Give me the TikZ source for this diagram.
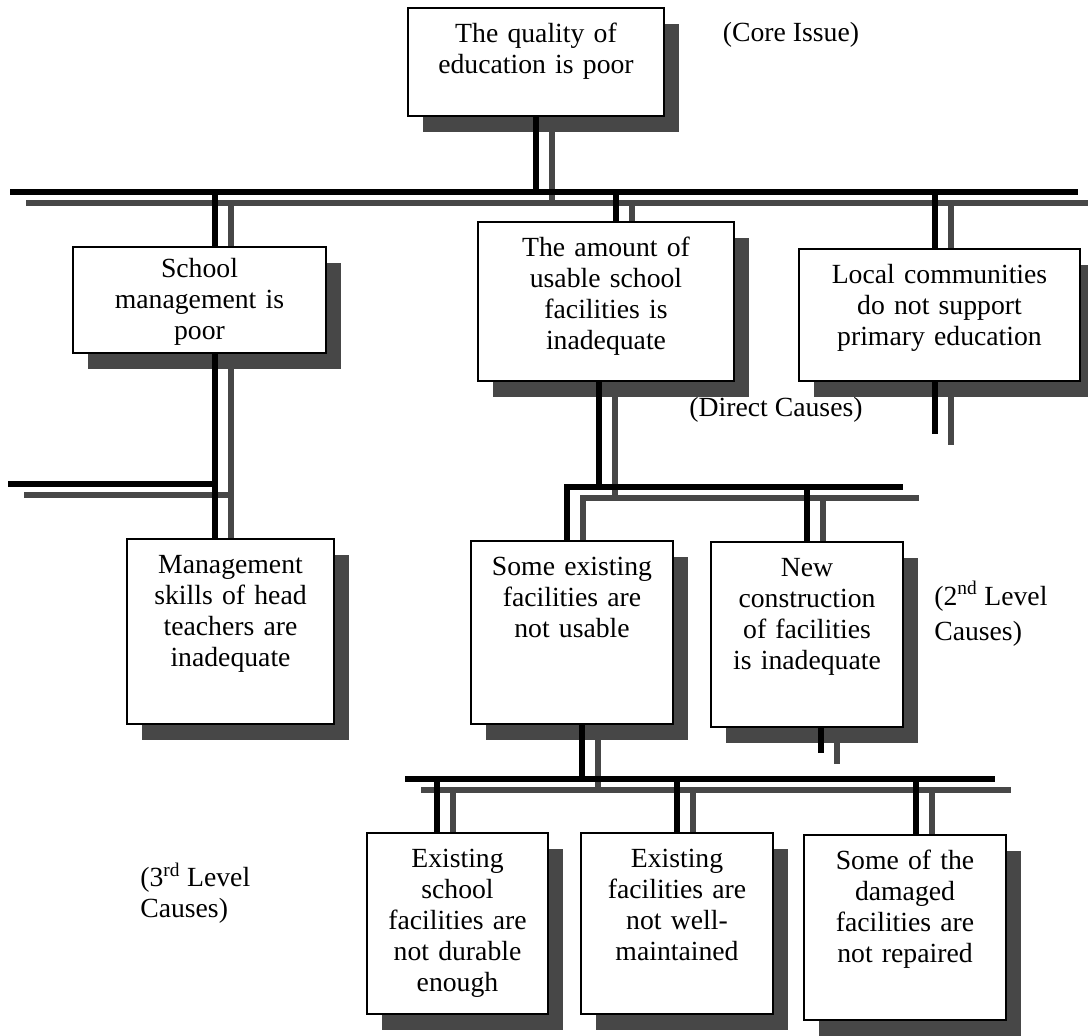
\documentclass[tikz,border=0pt]{standalone}
\usepackage{fontspec}
\setmainfont{Liberation Serif}
\usepackage{tikz}
\usetikzlibrary{shadows, calc}

\pgfdeclarelayer{background}
\pgfsetlayers{background,main}

\newcommand{\drawrails}[1]{%
	\draw[#1] (b1w) -- (b1e);
	\draw[#1] (core.south) -- (core.south |- b1w);
	\draw[#1] (m1) -- (m1 |- mgmt.north);
	\draw[#1] (m1 |- mgmt.south) -- (m1 |- skills.north);
	\draw[#1] (b2w) -- (b2w -| m1);
	\draw[#1] (a1) -- (a1 |- amount.north);
	\draw[#1] (c1) -- (c1 |- local.north);
	\draw[#1] (c2 |- local.south) -- (c2);
	\draw[#1] (a2 |- amount.south) -- (a2);
	\draw[#1] (n1 |- notusable.north) -- (n1) -- (b3e);
	\draw[#1] (newcons.north |- b3e) -- (newcons.north);
	\draw[#1] (d1 |- newcons.south) -- (d1);
	\draw[#1] (u1 |- notusable.south) -- (u1);
	\draw[#1] (b4w) -- (b4e);
	\draw[#1] (t1) -- (t1 |- durable.north);
	\draw[#1] (maintained.north |- b4w) -- (maintained.north);
	\draw[#1] (t4) -- (t4 |- repaired.north);
}

\begin{document}
\begin{tikzpicture}[
			x=0.025cm, y=-0.025cm,
			font=\fontsize{19.7pt}{22pt}\selectfont,
			cause/.style={draw, line width=1.1pt, fill=white, inner sep=0pt, anchor=north,
				align=center, text height=25pt,
				drop shadow={shadow xshift=10.7pt, shadow yshift=-11.4pt, fill=black!72, opacity=1}},
			note/.style={inner sep=0pt, align=left},
			rail/.style={line width=4.3pt, draw=black},
			railshadow/.style={line width=4.3pt, draw=black!72, transform canvas={xshift=11.4pt, yshift=-7.8pt}}
			]
			\useasboundingbox (0,0) rectangle (1088,1036);
			
			\node[cause, text width=182.1pt, text depth=51.8pt] (core) at (536,7) {The quality of\\education is poor};
			
			\node[cause, text width=180pt, text height=22pt, text depth=53.4pt] (mgmt) at (199.5,246) {School\\management is\\poor};
			\node[cause, text width=182.1pt, text depth=88.1pt] (amount) at (606,221) {The amount of\\usable school\\facilities is\\inadequate};
			\node[cause, text width=199.9pt, text depth=68.9pt] (local) at (939.5,248) {Local communities\\do not support\\primary education};
			
			\node[cause, text width=147.3pt, text depth=106.6pt] (skills) at (230.5,538) {Management\\skills of head\\teachers are\\inadequate};
			\node[cause, text width=143.7pt, text depth=105.2pt] (notusable) at (572,540) {Some existing\\facilities are\\not usable};
			\node[cause, text width=136.6pt, text depth=106.6pt] (newcons) at (807,541) {New\\construction\\of facilities\\is inadequate};
			
			\node[cause, text width=128.8pt, text depth=103.8pt] (durable) at (457.5,832) {Existing\\school\\facilities are\\not durable\\enough};
			\node[cause, text width=136.6pt, text depth=103.8pt] (maintained) at (677,832) {Existing\\facilities are\\not well-\\maintained};
			\node[cause, text width=143.7pt, text depth=106.6pt] (repaired) at (905,834) {Some of the\\damaged\\facilities are\\not repaired};
			
			\node[note] (coreLbl) at (791,35) {(Core Issue)};
			\node[note] (directLbl) at (776,410) {(Direct Causes)};
			\node[note, anchor=west, font=\fontsize{19.7pt}{25pt}\selectfont] (secondLbl) at (934,614) {(2\textsuperscript{nd} Level\\Causes)};
			\node[note, anchor=west] (thirdLbl) at (140,893) {(3\textsuperscript{rd} Level\\Causes)};
			
			\coordinate (b1w) at (10,192);
			\coordinate (b1e) at (1078,192);
			\coordinate (m1) at (215,192);
			\coordinate (a1) at (616,192);
			\coordinate (c1) at (935,192);
			\coordinate (c2) at (935,434);
			\coordinate (b2w) at (8,484);
			\coordinate (a2) at (599,487);
			\coordinate (n1) at (567,487);
			\coordinate (b3e) at (903,487);
			\coordinate (d1) at (821,753);
			\coordinate (u1) at (582,779);
			\coordinate (b4w) at (405,779);
			\coordinate (b4e) at (995,779);
			\coordinate (t1) at (437,779);
			\coordinate (t4) at (916,779);
			
			\begin{pgfonlayer}{background}
				\fill[white] (0,0) rectangle (1088,1036);
				\drawrails{railshadow}
			\end{pgfonlayer}
			\drawrails{rail}
		\end{tikzpicture}
\end{document}
